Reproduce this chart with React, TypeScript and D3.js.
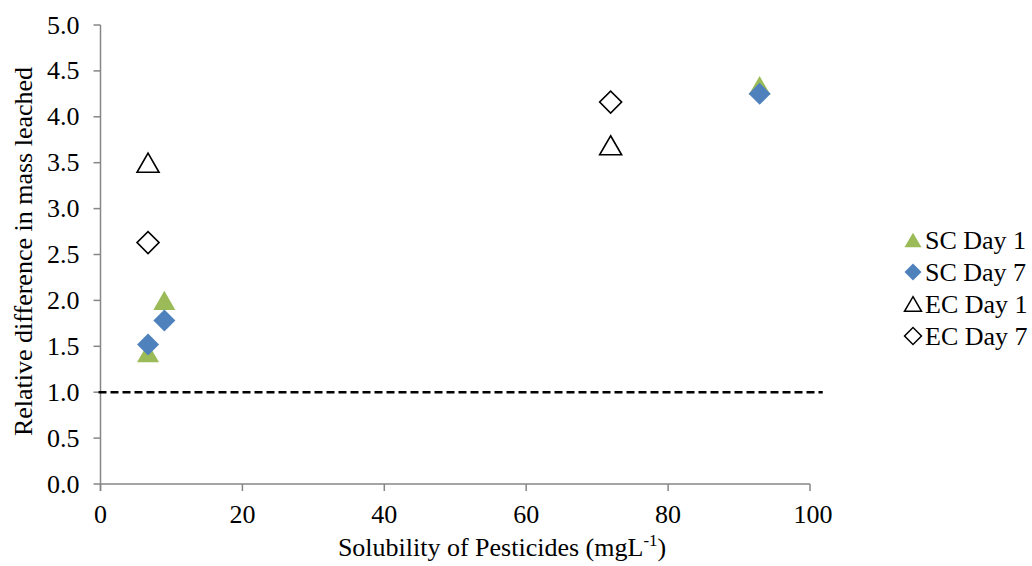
import * as d3 from 'd3';
import React from 'react';

// values
const scDay1 = [
  { x: 6.7, y: 1.43 },
  { x: 9.0, y: 2.0 },
  { x: 92.9, y: 4.34 },
];
const scDay7 = [
  { x: 6.7, y: 1.52 },
  { x: 9.0, y: 1.78 },
  { x: 92.9, y: 4.25 },
];
const ecDay1 = [
  { x: 6.7, y: 3.5 },
  { x: 71.9, y: 3.69 },
];
const ecDay7 = [
  { x: 6.7, y: 2.63 },
  { x: 71.9, y: 4.16 },
];
const xTicks = [0, 20, 40, 60, 80, 100];
const yTicks = [0, 0.5, 1, 1.5, 2, 2.5, 3, 3.5, 4, 4.5, 5];
const refLine = { y: 1, x0: 0, x1: 101.8 };

const series = [
  { name: 'SC Day 1', data: scDay1, shape: 'triangle', fill: '#9BBB59', stroke: 'none' },
  { name: 'SC Day 7', data: scDay7, shape: 'diamond', fill: '#4F81BD', stroke: 'none' },
  { name: 'EC Day 1', data: ecDay1, shape: 'triangle', fill: 'none', stroke: '#000' },
  { name: 'EC Day 7', data: ecDay7, shape: 'diamond', fill: 'none', stroke: '#000' },
];

const font = 'Liberation Serif';
const axisColor = '#868686';

const symbolPath = (shape: string, w: number) => {
  if (shape === 'triangle') {
    const r = w / (2 * Math.sqrt(3));
    return d3.symbol(d3.symbolTriangle, r * r * 3 * Math.sqrt(3))() as string;
  }
  const side = w / Math.SQRT2;
  return d3.symbol(d3.symbolSquare, side * side)() as string;
};
// centre the triangle's bounding box on the point, like Excel does
const shift = (shape: string, w: number) =>
  shape === 'triangle' ? `translate(0,${w / (4 * Math.sqrt(3))})` : 'rotate(45)';

// Liberation Serif falls back to a sans face above ~20px here, so draw at 20 and scale up
function Label({ x, y, anchor = 'start', rotate = false, dy, children }: any) {
  return (
    <text transform={`translate(${x},${y})${rotate ? ' rotate(-90)' : ''} scale(1.3)`}
      textAnchor={anchor} dy={dy} fontFamily={font} fontSize={20}>
      {children}
    </text>
  );
}

export default function App() {
  const width = 1032;
  const height = 566;

  const x = d3.scaleLinear().domain([0, 100]).range([100.5, 810]);
  const y = d3.scaleLinear().domain([0, 5]).range([484, 25]);

  return (
    <svg width={width} height={height}
      style={{ position: 'absolute', left: 0, top: 0, background: '#fff' }}
      fontFamily={font}>
      {/* axes */}
      <line x1={x(0)} x2={x(0)} y1={y(0) + 7} y2={y(5)} stroke={axisColor} strokeWidth={1.5} />
      <line x1={x(0)} x2={x(100)} y1={y(0)} y2={y(0)} stroke={axisColor} strokeWidth={1.5} />
      {yTicks.map(t => (
        <g key={'y' + t}>
          <line x1={x(0) - 7} x2={x(0)} y1={y(t)} y2={y(t)} stroke={axisColor} strokeWidth={1.5} />
          <Label x={x(0) - 21} y={y(t)} dy="0.33em" anchor="end">{t.toFixed(1)}</Label>
        </g>
      ))}
      {xTicks.map(t => (
        <g key={'x' + t}>
          <line x1={x(t)} x2={x(t)} y1={y(0)} y2={y(0) + 7} stroke={axisColor} strokeWidth={1.5} />
          <Label x={x(t) + (t === 100 ? 3 : 0)} y={y(0) + 39} anchor="middle">{t}</Label>
        </g>
      ))}

      {/* axis titles */}
      <Label x={502} y={556} anchor="middle">
        <tspan>Solubility of Pesticides (mgL</tspan>
        <tspan dy={-8} fontSize={13}>-1</tspan>
        <tspan dy={8}>)</tspan>
      </Label>
      <Label x={32} y={y(2.5) - 3} anchor="middle" rotate>
        Relative difference in mass leached
      </Label>

      {/* reference line */}
      <line x1={x(refLine.x0) - 2} x2={x(refLine.x1)} y1={y(refLine.y)} y2={y(refLine.y)}
        stroke="#000" strokeWidth={2.5} strokeDasharray="8,4" />

      {/* points */}
      {series.map(s => (
        <g key={s.name}>
          {s.data.map((d, i) => (
            <path key={i} d={symbolPath(s.shape, 22)}
              transform={`translate(${x(d.x)},${y(d.y)}) ${shift(s.shape, 22)}`}
              fill={s.fill} stroke={s.stroke} strokeWidth={1.6} />
          ))}
        </g>
      ))}

      {/* legend */}
      <g transform="translate(913, 240)">
        {series.map((s, i) => (
          <g key={s.name} transform={`translate(0, ${i * 32})`}>
            <path d={symbolPath(s.shape, 17)} transform={shift(s.shape, 17)}
              fill={s.fill} stroke={s.stroke} strokeWidth={1.5} />
            <Label x={12} y={0} dy="0.33em">{s.name}</Label>
          </g>
        ))}
      </g>
    </svg>
  );
}
